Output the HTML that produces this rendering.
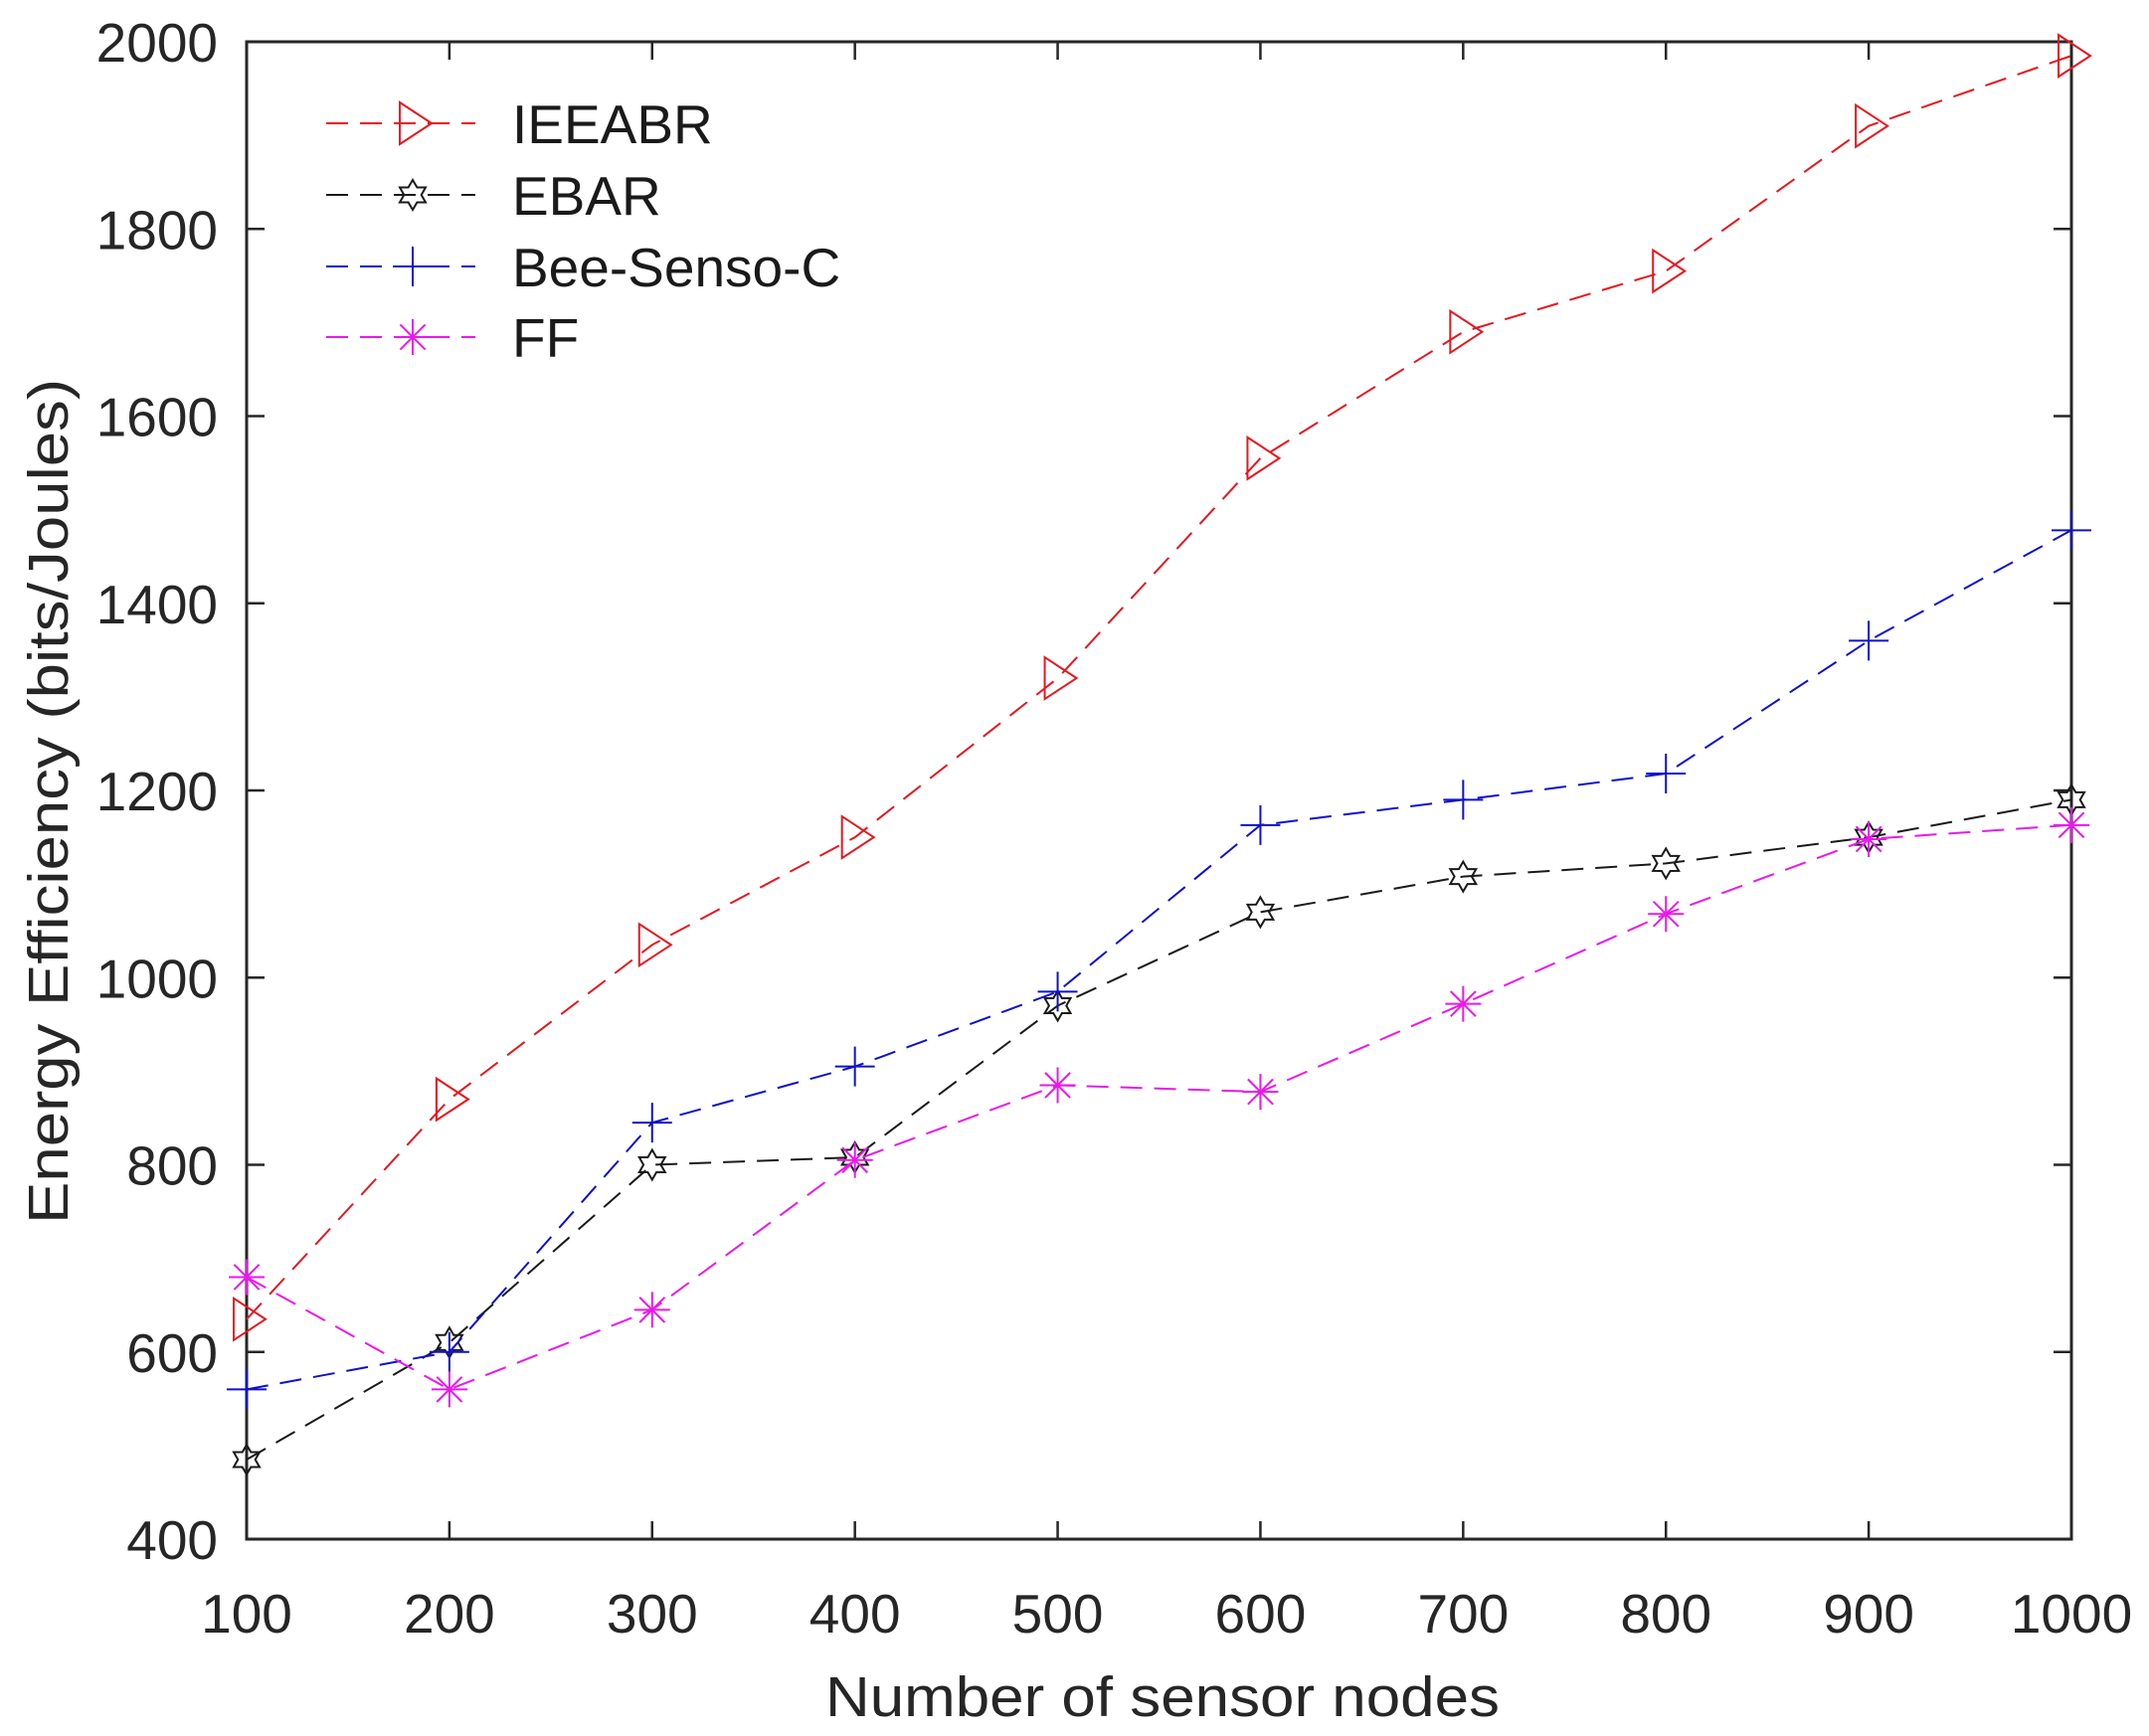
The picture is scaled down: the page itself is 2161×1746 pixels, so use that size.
<!DOCTYPE html>
<html><head><meta charset="utf-8"><style>
html,body{margin:0;padding:0;background:#fff}
svg{display:block;font-family:"Liberation Sans",Arial,sans-serif}
</style></head><body>
<svg id="chart" width="2161" height="1746" viewBox="0 0 2161 1746" xmlns="http://www.w3.org/2000/svg">
<rect width="2161" height="1746" fill="#fff"/>
<g id="plot"></g>
</svg>
<script>
const categories = [100,200,300,400,500,600,700,800,900,1000];
const ieeabrValues = [635,870,1035,1150,1320,1555,1690,1755,1910,1985];
const ebarValues = [485,610,800,808,970,1070,1108,1122,1150,1190];
const beeValues = [560,600,845,905,985,1163,1190,1218,1360,1478];
const ffValues = [680,560,645,805,885,878,972,1068,1148,1163];
const yTickLabels = [400,600,800,1000,1200,1400,1600,1800,2000];
const xTickLabels = [100,200,300,400,500,600,700,800,900,1000];
const seriesNames = ["IEEABR","EBAR","Bee-Senso-C","FF"];

const L=248,R=2083,T=42,B=1548;
const xS=v=>L+(v-100)/900*(R-L);
const yS=v=>B-(v-400)/1600*(B-T);
const NS="http://www.w3.org/2000/svg";
const g=document.getElementById('plot');
function mk(tag,attrs,parent){const e=document.createElementNS(NS,tag);for(const k in attrs)e.setAttribute(k,attrs[k]);(parent||g).appendChild(e);return e;}

const box=mk('rect',{x:L,y:T,width:R-L,height:B-T,fill:'none',stroke:'#262626','stroke-width':3});



yTickLabels.forEach(v=>{
  const y=yS(v);
  const t1=mk('line',{x1:L,x2:L+18,y1:y,y2:y,stroke:'#262626','stroke-width':2.5});
  
  
  const t2=mk('line',{x1:R,x2:R-18,y1:y,y2:y,stroke:'#262626','stroke-width':2.5});
  
  
  const tx=mk('text',{x:219,y:y+20,'text-anchor':'end','font-size':55,fill:'#262626'});
  tx.textContent=v;
  
  
});
xTickLabels.forEach(v=>{
  const x=xS(v);
  const t1=mk('line',{x1:x,x2:x,y1:B,y2:B-18,stroke:'#262626','stroke-width':2.5});
  
  
  const t2=mk('line',{x1:x,x2:x,y1:T,y2:T+18,stroke:'#262626','stroke-width':2.5});
  
  
  const tx=mk('text',{x:x,y:1642,'text-anchor':'middle','font-size':55,fill:'#262626'});
  tx.textContent=v;
  
  
});

const xt=mk('text',{x:1169,y:1726,'text-anchor':'middle','font-size':57,fill:'#262626',textLength:678,lengthAdjust:'spacingAndGlyphs'});
xt.textContent='Number of sensor nodes';


const yt=mk('text',{x:0,y:0,'text-anchor':'middle','font-size':57,fill:'#262626',textLength:850,lengthAdjust:'spacingAndGlyphs',transform:'translate(68,806) rotate(-90)'});
yt.textContent='Energy Efficiency (bits/Joules)';



function marker(type,x,y,color,parent){
  const p=parent||g;
  if(type==='tri'){
    return mk('polygon',{points:`${x-13},${y-21} ${x+19},${y} ${x-13},${y+21}`,fill:'none',stroke:color,'stroke-width':2},p);
  } else if(type==='hex'){
    const r1=15,r2=8.7;let pts=[];
    for(let i=0;i<12;i++){const a=-Math.PI/2+i*Math.PI/6;const r=i%2?r2:r1;pts.push((x+r*Math.cos(a)).toFixed(1)+','+(y+r*Math.sin(a)).toFixed(1));}
    return mk('polygon',{points:pts.join(' '),fill:'none',stroke:color,'stroke-width':2},p);
  } else if(type==='plus'){
    return mk('path',{d:`M${x-20},${y}H${x+20}M${x},${y-20}V${y+20}`,stroke:color,'stroke-width':2,fill:'none'},p);
  } else {
    const r=18,d=r*0.7;
    return mk('path',{d:`M${x-r},${y}H${x+r}M${x},${y-r}V${y+r}M${x-d},${y-d}L${x+d},${y+d}M${x-d},${y+d}L${x+d},${y-d}`,stroke:color,'stroke-width':2,fill:'none'},p);
  }
}

const series=[
  {name:seriesNames[0],vals:ieeabrValues,color:'#e8161e',m:'tri',key:'ieeabr'},
  {name:seriesNames[1],vals:ebarValues,color:'#1a1a1a',m:'hex',key:'ebar'},
  {name:seriesNames[2],vals:beeValues,color:'#1010cc',m:'plus',key:'bee-senso-c'},
  {name:seriesNames[3],vals:ffValues,color:'#ea18ea',m:'star',key:'ff'}
];
series.forEach((s,si)=>{
  const sg=mk('g',{});
  
  
  const pts=s.vals.map((v,i)=>xS(categories[i]).toFixed(1)+','+yS(v).toFixed(1)).join(' ');
  const pl=mk('polyline',{points:pts,fill:'none',stroke:s.color,'stroke-width':2,'stroke-dasharray':'22,12'},sg);
  
  
  s.vals.forEach((v,i)=>{
    const mm=marker(s.m,xS(categories[i]),yS(v),s.color,sg);
    
    
  });
  const ly=[124,196,268,339][si];
  const lg=mk('g',{});
  
  
  mk('line',{x1:328,x2:478,y1:ly,y2:ly,stroke:s.color,'stroke-width':2,'stroke-dasharray':'22,12'},lg);
  marker(s.m,415,ly,s.color,lg);
  const lt=mk('text',{x:515,y:ly+20,'font-size':55,fill:'#1a1a1a'},lg);
  lt.textContent=s.name;
});
</script>
</body></html>
